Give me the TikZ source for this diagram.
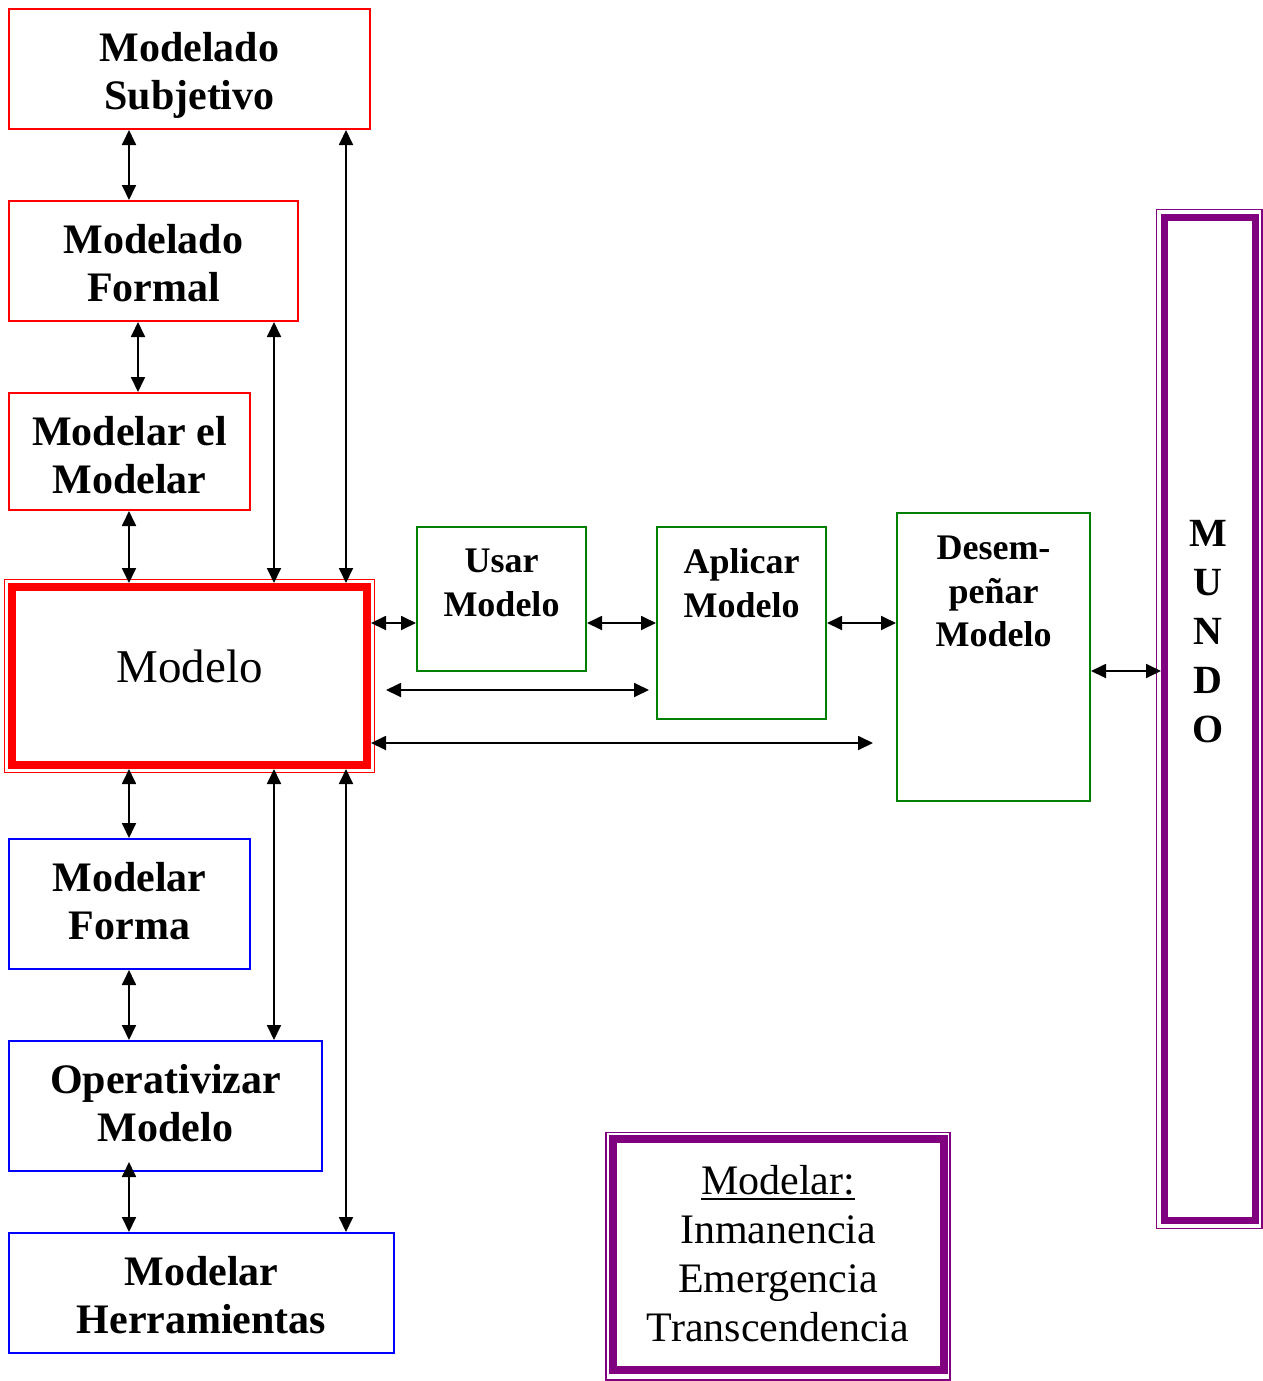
\documentclass[tikz,border=0pt]{standalone}
\usepackage{fontspec}
\setmainfont{Liberation Serif}
\usetikzlibrary{arrows.meta}

\definecolor{verde}{HTML}{008000}
\definecolor{morado}{HTML}{800080}

% underlined word with a heavy rule
\newcommand{\lineunder}[1]{\setbox0\hbox{#1}\rlap{\rule[-6pt]{\wd0}{2.4pt}}\box0}

\tikzset{
	caja/.style={rectangle, draw, line width=2pt, inner sep=0pt},
	marco/.style={rectangle, draw, line width=1.5pt, inner sep=0pt},
	rotulo/.style={anchor=north, align=center, inner sep=0pt, font=\fontsize{42}{48}\selectfont\bfseries},
	rotulochico/.style={anchor=north, align=center, inner sep=0pt, font=\fontsize{36}{43.5}\selectfont\bfseries},
	flecha/.style={<->, >={Triangle[length=15pt,width=14pt]}, line width=1.8pt}
}

\begin{document}
\begin{tikzpicture}[x=1pt,y=-1pt]
	
	\useasboundingbox (0,0) rectangle (1263,1381);
	
	% red boxes
	\node[caja, draw=red, minimum width=361, minimum height=120] (subj) at (189.5,69) {};
	\node[caja, draw=red, minimum width=289, minimum height=120] (formal) at (153.5,261) {};
	\node[caja, draw=red, minimum width=241, minimum height=117] (mm) at (129.5,451.5) {};
	\node[marco, draw=red, minimum width=370, minimum height=193] (modeloF) at (189.5,676) {};
	\node[caja, draw=red, line width=8pt, minimum width=355, minimum height=178] (modelo) at (189.5,676) {};
	
	% blue boxes
	\node[caja, draw=blue, minimum width=241, minimum height=130] (forma) at (129.5,904) {};
	\node[caja, draw=blue, minimum width=313, minimum height=130] (oper) at (165.5,1106) {};
	\node[caja, draw=blue, minimum width=385, minimum height=120] (herr) at (201.5,1293) {};
	
	% green boxes
	\node[caja, draw=verde, minimum width=169, minimum height=144] (usar) at (501.5,599) {};
	\node[caja, draw=verde, minimum width=169, minimum height=192] (aplicar) at (741.5,623) {};
	\node[caja, draw=verde, minimum width=193, minimum height=288] (desem) at (993.5,657) {};
	
	% purple boxes
	\node[marco, draw=morado, minimum width=105.5, minimum height=1019] (mundoF) at (1209.25,719) {};
	\node[caja, draw=morado, line width=7pt, minimum width=91, minimum height=1003] (mundo) at (1210,719) {};
	\node[marco, draw=morado, minimum width=344, minimum height=247.5] (leyendaF) at (778,1256) {};
	\node[caja, draw=morado, line width=8pt, minimum width=330.5, minimum height=231] (leyenda) at (778.25,1254.5) {};
	
	% texts
	\node[rotulo] (tsubj) at (189.5,32.5) {Modelado\\Subjetivo};
	\node[rotulo] (tformal) at (153.5,224.5) {Modelado\\Formal};
	\node[rotulo] (tmm) at (129.5,416.5) {Modelar el\\Modelar};
	\node[anchor=north, inner sep=0pt, font=\fontsize{47}{56}\selectfont] (tmodelo) at (189.5,650) {Modelo};
	\node[rotulo] (tforma) at (129.5,862.5) {Modelar\\Forma};
	\node[rotulo] (toper) at (165.5,1064.5) {Operativizar\\Modelo};
	\node[rotulo] (therr) at (201.5,1256.5) {Modelar\\Herramientas};
	\node[rotulochico] (tusar) at (501.5,549) {Usar\\Modelo};
	\node[rotulochico] (taplicar) at (741.5,548.6) {Aplicar\\Modelo};
	\node[rotulochico] (tdesem) at (993.5,536) {Desem-\\peñar\\Modelo};
	\node[anchor=north, align=center, inner sep=0pt, font=\fontsize{40}{49}\selectfont\bfseries] (tmundo) at (1208,520.5) {M\\U\\N\\D\\O};
	\node[anchor=north, align=center, inner sep=0pt, font=\fontsize{42}{49}\selectfont] (tleyenda) at (778,1165) {\lineunder{Modelar:}\\Inmanencia\\Emergencia\\Transcendencia};
	
	% columns and free ends
	\coordinate (c1) at (129,0);
	\coordinate (c2) at (138,0);
	\coordinate (c3) at (274,0);
	\coordinate (c4) at (346,0);
	\coordinate (l1) at (386,690);
	\coordinate (l2) at (649,690);
	\coordinate (l3) at (873,743);
	\coordinate (r16) at (0,671);
	\coordinate (otip) at (0,1162);
	
	%draw vertical arrows
	\draw[flecha] (subj.south -| c1) -- (formal.north -| c1);
	\draw[flecha] (subj.south -| c4) -- (modelo.north -| c4);
	\draw[flecha] (formal.south -| c2) -- (mm.north -| c2);
	\draw[flecha] (formal.south -| c3) -- (modelo.north -| c3);
	\draw[flecha] (mm.south -| c1) -- (modelo.north -| c1);
	\draw[flecha] (modelo.south -| c1) -- (forma.north -| c1);
	\draw[flecha] (modelo.south -| c3) -- (oper.north -| c3);
	\draw[flecha] (modelo.south -| c4) -- (herr.north -| c4);
	\draw[flecha] (forma.south -| c1) -- (oper.north -| c1);
	\draw[flecha] (otip -| c1) -- (herr.north -| c1);
	
	%draw horizontal arrows
	\draw[flecha] (modelo.east |- aplicar.west) -- (usar.west |- aplicar.west);
	\draw[flecha] (usar.east |- aplicar.west) -- (aplicar.west);
	\draw[flecha] (aplicar.east) -- (desem.west |- aplicar.east);
	\draw[flecha] (l1) -- (l2);
	\draw[flecha] (modelo.east |- l3) -- (l3);
	\draw[flecha] (desem.east |- r16) -- (mundo.west |- r16);
	
\end{tikzpicture}
\end{document}
